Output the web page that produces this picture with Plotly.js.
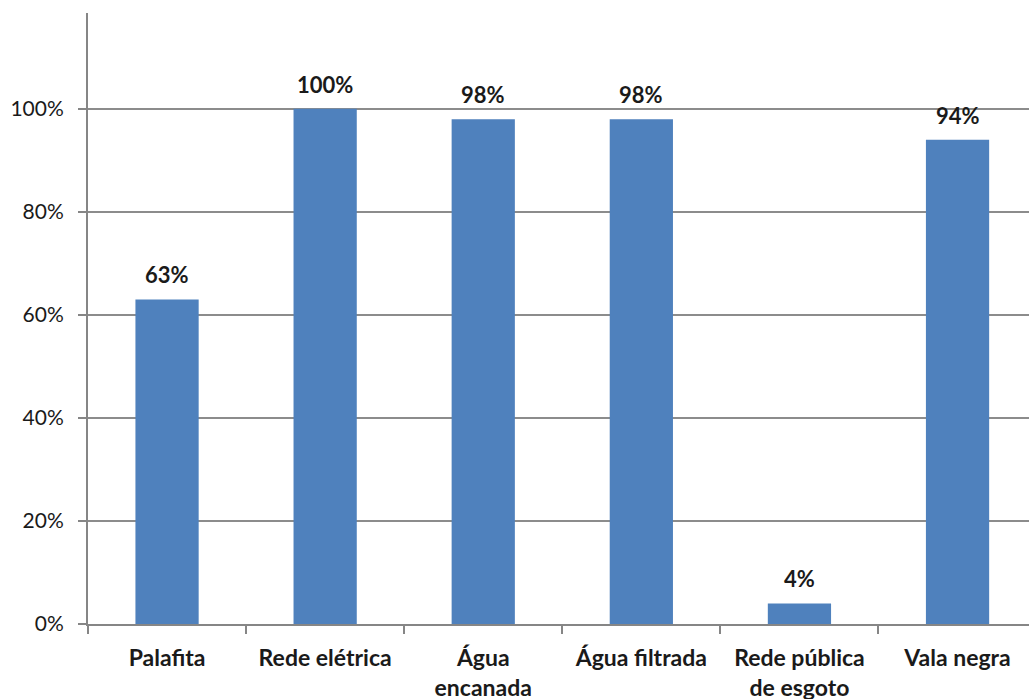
<!DOCTYPE html>
<html>
<head>
<meta charset="utf-8">
<script src="https://cdn.plot.ly/plotly-3.0.1.min.js"></script>
<style>
  html, body { margin: 0; padding: 0; background: #ffffff; }
  #chart { width: 1029px; height: 699px; }
</style>
</head>
<body>
<div id="chart"></div>
<script>
// Infrastructure coverage by item (share of households)
const categories = [
  "Palafita",
  "Rede elétrica",
  "Água<br>encanada",
  "Água filtrada",
  "Rede pública<br>de esgoto",
  "Vala negra"
];
const shares = [63, 100, 98, 98, 4, 94];
const yTickValues = [0, 20, 40, 60, 80, 100];
const yTickLabels = ["0%", "20%", "40%", "60%", "80%", "100%"];

const FONT = "Lato, 'Open Sans', sans-serif";
const TEXT_COLOR = "#1a1a1a";
const BAR_COLOR = "#4f81bd";
const AXIS_COLOR = "#868686";

const labels = categories.map((c, i) => ({
  x: c,
  y: shares[i],
  xref: "x",
  yref: "y",
  text: "<b>" + shares[i] + "%</b>",
  showarrow: false,
  yanchor: "bottom",
  yshift: 9,
  font: { family: FONT, size: 22, color: TEXT_COLOR }
}));

const trace = {
  type: "bar",
  x: categories,
  y: shares,
  marker: { color: BAR_COLOR, line: { width: 0 } },
  hoverinfo: "skip"
};

const layout = {
  width: 1029,
  height: 699,
  margin: { l: 88, r: 0, t: 13, b: 75 },
  paper_bgcolor: "#ffffff",
  plot_bgcolor: "#ffffff",
  showlegend: false,
  bargap: 0.6,
  font: { family: FONT, size: 23, color: TEXT_COLOR },
  xaxis: {
    type: "category",
    range: [-0.5, 5.452],
    tickmode: "array",
    tickvals: categories,
    ticktext: categories.map(c => "<b>" + c + "</b>"),
    showline: true,
    linecolor: AXIS_COLOR,
    linewidth: 2,
    ticks: "outside",
    tickson: "boundaries",
    ticklen: 8,
    tickwidth: 2,
    tickcolor: AXIS_COLOR,
    showgrid: false,
    zeroline: false,
    tickfont: { family: FONT, size: 23, color: TEXT_COLOR },
    ticklabelstandoff: 12
  },
  yaxis: {
    range: [0, 118.6],
    tickmode: "array",
    tickvals: yTickValues,
    ticktext: yTickLabels,
    showline: true,
    linecolor: AXIS_COLOR,
    linewidth: 2,
    ticks: "outside",
    ticklen: 8,
    tickwidth: 2,
    tickcolor: AXIS_COLOR,
    showgrid: true,
    gridcolor: "#8c8c8c",
    gridwidth: 1.5,
    zeroline: false,
    tickfont: { family: FONT, size: 21, color: TEXT_COLOR },
    ticklabelstandoff: 10
  },
  annotations: labels
};

Plotly.newPlot("chart", [trace], layout, { displayModeBar: false, staticPlot: true });
</script>
</body>
</html>
